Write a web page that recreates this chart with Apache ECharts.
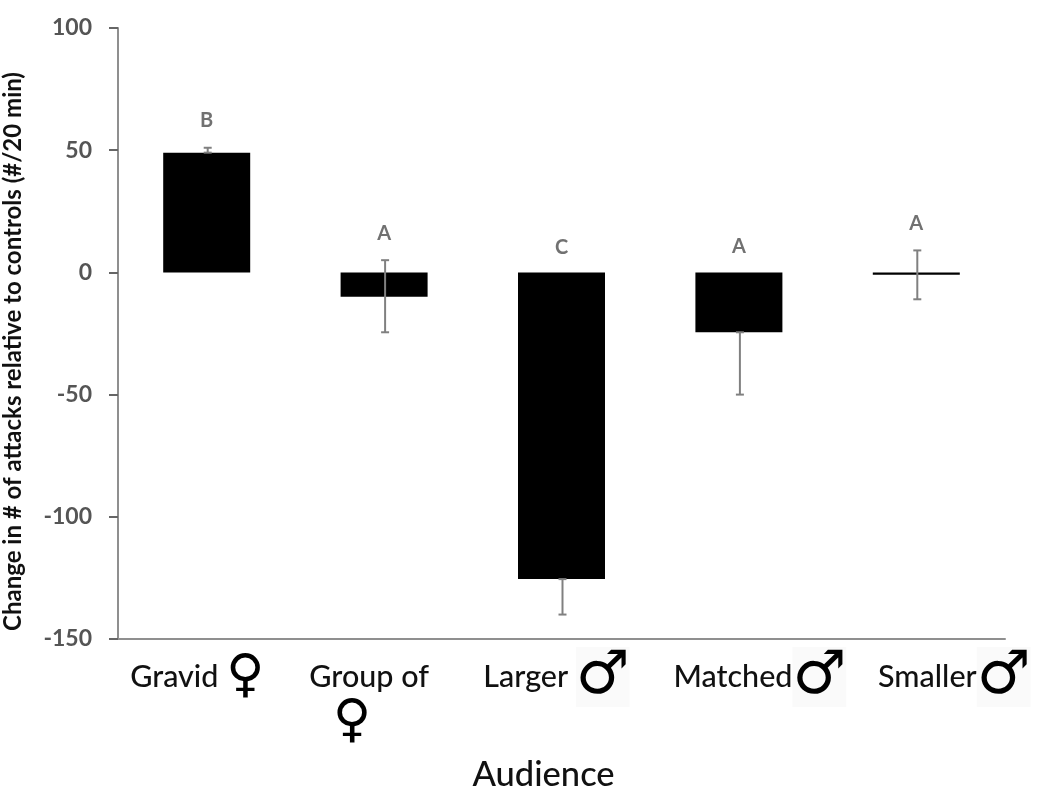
<!DOCTYPE html>
<html>
<head>
<meta charset="utf-8">
<title>Audience</title>
<script src="https://cdn.jsdelivr.net/npm/echarts@6/dist/echarts.min.js"></script>
<style>
  html, body { margin: 0; padding: 0; background: #fff; }
  #chart { width: 1050px; height: 800px; }
</style>
</head>
<body>
<div id="chart"></div>
<script>
const categories = ["Gravid", "Group of", "Larger", "Matched", "Smaller"];
const categoryLabels = [
  "{t|Gravid }{f|♀}",
  "{t|Group of}\n{f2|♀}",
  "{t|Larger }{m|♂}",
  "{t|Matched}{m|♂}",
  "{t|Smaller}{m|♂}",
];
const labelPadding = [
  [0, 19, 0, 0],
  [0, 30, 0, 0],
  [0, 10, 0, 0],
  [0, 0, 0, 42],
  [0, 0, 0, 76],
];
const changeValues = [49, -10, -125.5, -24.5, -1];
const errorHigh = [51, 5, -125.5, -24.5, 9];
const errorLow = [49, -24.5, -140, -50, -11];
const letters = ["B", "A", "C", "A", "A"];
const letterValues = [62, 16, 10, 10.5, 20];
const yTicks = { min: -150, max: 100, interval: 50 };

const chart = echarts.init(document.getElementById("chart"));
const axisColor = "#8f8f8f";
const labelFont = "Lato";

chart.setOption({
  animation: false,
  backgroundColor: "#ffffff",
  grid: { left: 118, top: 28, width: 887, height: 611, outerBoundsMode: "none" },
  xAxis: [
    {
      type: "category",
      data: categories.map((c, i) => ({
        value: categoryLabels[i],
        textStyle: { padding: labelPadding[i] },
      })),
      position: "bottom",
      axisLine: { show: false },
      axisTick: { show: false },
      axisLabel: {
        interval: 0,
        margin: 9,
        verticalAlign: "top",
        hideOverlap: false,
        rich: {
          t: { fontFamily: labelFont, fontSize: 30.5, color: "#111", fontWeight: 500, lineHeight: 58 },
          f: { fontFamily: "DejaVu Sans", fontSize: 52, color: "#000", lineHeight: 58, fontWeight: "bold" },
          f2: { fontFamily: "DejaVu Sans", fontSize: 52, color: "#000", lineHeight: 32, fontWeight: "bold", padding: [0, 34, 0, 0] },
          m: { fontFamily: "DejaVu Sans", fontSize: 60, color: "#000", lineHeight: 58, fontWeight: "bold", backgroundColor: "#fafafa" },
        },
      },
      name: "Audience",
      nameLocation: "middle",
      nameGap: 118,
      nameTextStyle: { fontFamily: labelFont, fontSize: 34.5, color: "#111", fontWeight: 500, padding: [0, 36, 0, 0] },
    },
    {
      type: "category",
      data: categories,
      position: "bottom",
      axisLine: { onZero: true, lineStyle: { color: axisColor, width: 2 } },
      axisTick: { show: false },
      axisLabel: { show: false },
    },
  ],
  yAxis: {
    type: "value",
    min: yTicks.min,
    max: yTicks.max,
    interval: yTicks.interval,
    name: "Change in # of attacks relative to controls (#/20 min)",
    nameLocation: "middle",
    nameGap: 93,
    nameTextStyle: { fontFamily: labelFont, fontSize: 24, color: "#111", fontWeight: "bold", padding: [0, 36, 0, 0] },
    axisLine: { show: true, lineStyle: { color: axisColor, width: 2 } },
    axisTick: { show: true, length: 9, lineStyle: { color: "#666", width: 2 } },
    axisLabel: { fontFamily: labelFont, fontSize: 23, color: "#555", fontWeight: "bold", margin: 26, padding: [10, 0, 0, 0] },
    splitLine: { show: false },
  },
  series: [
    {
      name: "Change",
      type: "bar",
      xAxisIndex: 1,
      data: changeValues,
      barWidth: 87,
      itemStyle: { color: "#000" },
      z: 2,
    },
    {
      name: "Error",
      type: "custom",
      xAxisIndex: 1,
      data: categories.map((c, i) => [i, errorHigh[i], errorLow[i]]),
      z: 3,
      renderItem: function (params, api) {
        const x = api.coord([api.value(0), 0])[0] + 1;
        const high = api.coord([api.value(0), api.value(1)])[1];
        const low = api.coord([api.value(0), api.value(2)])[1];
        const style = { stroke: "#808080", lineWidth: 2 };
        return {
          type: "group",
          children: [
            { type: "line", shape: { x1: x, y1: high, x2: x, y2: low }, style: style },
            { type: "line", shape: { x1: x - 4, y1: high, x2: x + 4, y2: high }, style: style },
            { type: "line", shape: { x1: x - 4, y1: low, x2: x + 4, y2: low }, style: style },
          ],
        };
      },
    },
    {
      name: "Letters",
      type: "scatter",
      xAxisIndex: 1,
      data: letterValues,
      symbolSize: 0,
      label: {
        show: true,
        position: "inside",
        formatter: (p) => letters[p.dataIndex],
        fontFamily: labelFont,
        fontSize: 20,
        fontWeight: "bold",
        color: "#4d4d4d",
      },
    },
  ],
});
</script>
</body>
</html>
